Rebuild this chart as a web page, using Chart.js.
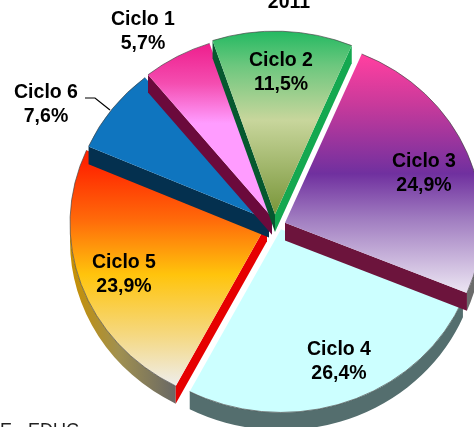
<!DOCTYPE html>
<html>
<head>
<meta charset="utf-8">
<style>
    html, body { margin: 0; padding: 0; background: #fff; }
    #wrap { width: 474px; height: 427px; }
</style>
<script src="https://cdn.jsdelivr.net/npm/chart.js@4"></script>
</head>
<body>
<div id="wrap"><canvas id="pieChart" width="474" height="427"></canvas></div>
<script>
const categories = ['Ciclo 1', 'Ciclo 2', 'Ciclo 3', 'Ciclo 4', 'Ciclo 5', 'Ciclo 6'];
const shares = [5.7, 11.5, 24.9, 26.4, 23.9, 7.6];
const shareLabels = ['5,7%', '11,5%', '24,9%', '26,4%', '23,9%', '7,6%'];
const titleText = '2011';
const footerText = 'E - EDUC';

// how far each slice is pulled out of the pie, [x, y]
const pullOut = [[-3, -2], [0, -5], [10, 4], [6, 11], [-8, 5], [-6, 1]];
// order the slices get painted in, so the side walls land on the lower neighbour
const paintOrder = [3, 4, 2, 5, 0, 1];
// centre of each two-line label, in page pixels
const labelAnchors = [[143, 30], [281, 71], [424, 172], [339, 360], [124, 273], [46, 103]];

// top face gradients as [page y, colour]
const faceStops = [
    [[45, '#ee1e8c'], [85, '#f44db0'], [125, '#ff9cff'], [215, '#ff9cff']],
    [[33, '#1db85f'], [70, '#6cc77e'], [125, '#c8d69c'], [212, '#7e9a40']],
    [[53, '#ff3fa0'], [100, '#c93a9b'], [170, '#70309f'], [215, '#a07cc0'], [285, '#e8e0f0']],
    [[230, '#ccffff'], [400, '#ccffff']],
    [[158, '#ff2400'], [215, '#ff6a0a'], [270, '#ffc40c'], [330, '#f5d880'], [382, '#eeeeee']],
    [[75, '#0f75bf'], [220, '#0f75bf']]
];
// side walls: [edge at slice start, edge at slice end, rim]
const wallColors = [
    ['#6b0a3c', '#6b0a3c', '#6b0a3c'],
    ['#06582f', '#14a850', '#14a850'],
    ['#6c143c', '#6c143c', '#6b6b6b'],
    ['#3f5a5a', '#3f5a5a', '#546e6e'],
    ['#e60000', '#e60000', null],
    ['#04304f', '#04304f', '#04304f']
];

const squash = 0.93;   // the pie is a little flatter than a circle
const depth = 19;
const pieRadius = 197;
const pieCenterY = 219;

// page y -> y inside the squashed drawing
function unsquash(y) {
    return pieCenterY + (y - pieCenterY) / squash;
}

function faceGradient(context) {
    const stops = faceStops[context.dataIndex];
    const first = stops[0][0];
    const last = stops[stops.length - 1][0];
    const g = context.chart.ctx.createLinearGradient(0, unsquash(first), 0, unsquash(last));
    stops.forEach(s => g.addColorStop((s[0] - first) / (last - first), s[1]));
    return g;
}

function drawEdgeWall(ctx, cx, cy, r, angle, color) {
    ctx.beginPath();
    ctx.moveTo(cx, cy);
    ctx.lineTo(cx + Math.cos(angle) * r, cy + Math.sin(angle) * r);
    ctx.lineTo(cx + Math.cos(angle) * r, cy + Math.sin(angle) * r + depth);
    ctx.lineTo(cx, cy + depth);
    ctx.closePath();
    ctx.fillStyle = color;
    ctx.fill();
}

function rimStyle(ctx, index, cx, r) {
    if (index !== 4) return wallColors[index][2];
    // the orange slice rim fades from amber to grey along its length
    const g = ctx.createLinearGradient(cx - r, 0, cx - r * 0.45, 0);
    g.addColorStop(0, '#c89000');
    g.addColorStop(0.45, '#a09050');
    g.addColorStop(1, '#666666');
    return g;
}

function drawRim(ctx, index, cx, cy, r, start, end) {
    // only the part of the rim facing the viewer, canvas angles 0..PI
    for (let turn = -2; turn <= 2; turn++) {
        const a = Math.max(start, turn * 2 * Math.PI);
        const b = Math.min(end, turn * 2 * Math.PI + Math.PI);
        if (b <= a) continue;
        ctx.beginPath();
        ctx.arc(cx, cy, r, a, b);
        ctx.arc(cx, cy + depth, r, b, a, true);
        ctx.closePath();
        ctx.fillStyle = rimStyle(ctx, index, cx, r);
        ctx.fill();
    }
}

function drawSlice(ctx, arc, index) {
    const { startAngle, endAngle, outerRadius, x, y } = arc;

    // the library's own offset only grows the radius, so pull the slice out here
    ctx.save();
    ctx.translate(pullOut[index][0], pullOut[index][1]);

    drawRim(ctx, index, x, y, outerRadius, startAngle, endAngle);
    // a wall only shows when its outward side turns downward
    if (Math.cos(startAngle) < 0) drawEdgeWall(ctx, x, y, outerRadius, startAngle, wallColors[index][0]);
    if (Math.cos(endAngle) > 0) drawEdgeWall(ctx, x, y, outerRadius, endAngle, wallColors[index][1]);
    arc.draw(ctx);

    // thin grey outline on the round edge
    ctx.beginPath();
    ctx.arc(x, y, outerRadius, startAngle, endAngle);
    ctx.strokeStyle = 'rgba(70,70,70,0.7)';
    ctx.lineWidth = 1;
    ctx.stroke();
    ctx.restore();
}

const extrudedPie = {
    id: 'extrudedPie',
    beforeDatasetDraw(chart) {
        const ctx = chart.ctx;
        const arcs = chart.getDatasetMeta(0).data;
        ctx.save();
        ctx.translate(0, pieCenterY);
        ctx.scale(1, squash);
        ctx.translate(0, -pieCenterY);
        paintOrder.forEach(i => drawSlice(ctx, arcs[i], i));
        ctx.restore();
        return false; // the slices are already painted
    },
    afterDraw(chart) {
        const ctx = chart.ctx;
        ctx.save();
        ctx.fillStyle = '#000';
        ctx.textAlign = 'center';
        ctx.textBaseline = 'middle';
        ctx.font = 'bold 19.5px "Liberation Sans", Arial, sans-serif';
        categories.forEach((name, i) => {
            const [lx, ly] = labelAnchors[i];
            ctx.fillText(name, lx, ly - 10);
            ctx.fillText(shareLabels[i], lx, ly + 13.5);
        });
        ctx.fillText(titleText, 289, 3);

        // leader line for Ciclo 6
        ctx.beginPath();
        ctx.moveTo(85, 98);
        ctx.lineTo(95, 98);
        ctx.lineTo(110, 110);
        ctx.strokeStyle = '#000';
        ctx.lineWidth = 1.2;
        ctx.stroke();

        ctx.textAlign = 'left';
        ctx.font = '18px "Liberation Sans", Arial, sans-serif';
        ctx.fillStyle = '#222';
        ctx.fillText(footerText, 0, 431);
        ctx.restore();
    }
};

new Chart(document.getElementById('pieChart'), {
    type: 'pie',
    data: {
        labels: categories,
        datasets: [{
            data: shares,
            backgroundColor: faceGradient,
            borderWidth: 0,
            radius: pieRadius
        }]
    },
    options: {
        responsive: false,
        animation: false,
        rotation: -39,
        layout: { padding: { left: 76, top: 11 } },
        plugins: {
            legend: { display: false },
            tooltip: { enabled: false }
        }
    },
    plugins: [extrudedPie]
});
</script>
</body>
</html>
